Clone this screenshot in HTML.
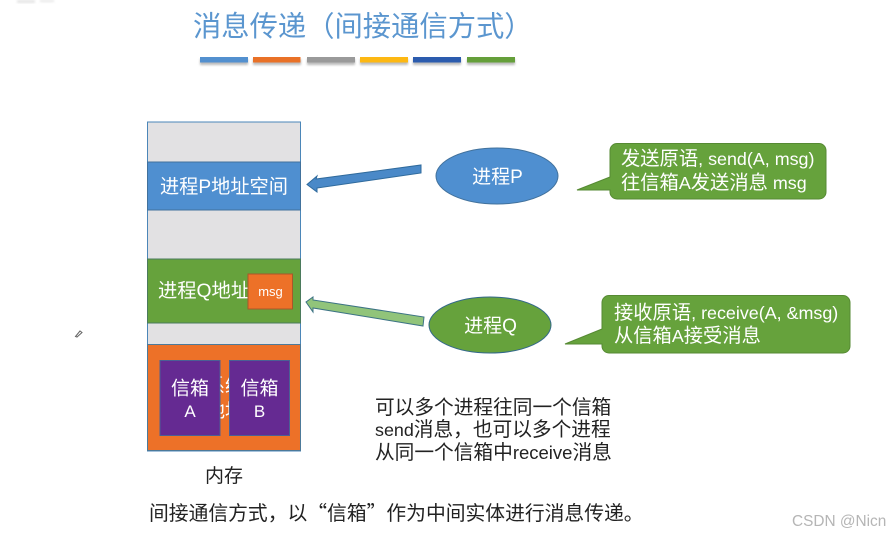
<!DOCTYPE html>
<html><head><meta charset="utf-8"><style>
html,body{margin:0;padding:0;background:#fff}
svg{display:block}
text{font-family:"Liberation Sans","Noto Sans CJK SC",sans-serif;text-spacing-trim:space-all}
.q{font-family:"Noto Sans CJK SC",sans-serif}
.l{font-size:17.9px}
</style></head><body>
<svg width="890" height="535" viewBox="0 0 890 535" xmlns="http://www.w3.org/2000/svg">
<defs><filter id="b" x="-10%" y="-10%" width="120%" height="140%"><feGaussianBlur stdDeviation="1"/></filter></defs>
<g filter="url(#b)" fill="#e6e6e6"><rect x="17" y="0" width="18" height="3"/><rect x="40" y="0" width="14" height="2"/></g>
<text y="36" font-size="28.300" fill="#5b96cf" class="q"><tspan x="193">消</tspan><tspan x="221.300">息</tspan><tspan x="249.600">传</tspan><tspan x="277.900">递</tspan><tspan x="306.200">（</tspan><tspan x="334.500">间</tspan><tspan x="362.800">接</tspan><tspan x="391.100">通</tspan><tspan x="419.400">信</tspan><tspan x="447.700">方</tspan><tspan x="476">式</tspan><tspan x="504.300">）</tspan></text>
<g filter="url(#b)" fill="#bbb"><rect x="200" y="59" width="48" height="6"/><rect x="253" y="59" width="48" height="6"/><rect x="307" y="59" width="48" height="6"/><rect x="360" y="59" width="48" height="6"/><rect x="413" y="59" width="48" height="6"/><rect x="467" y="59" width="48" height="6"/></g>
<rect x="200" y="57" width="48" height="5.500" fill="#5390cf"/>
<rect x="253" y="57" width="47.500" height="5.500" fill="#e97127"/>
<rect x="307" y="57" width="48" height="5.500" fill="#9a9a9a"/>
<rect x="360" y="57" width="48" height="5.500" fill="#fdb813"/>
<rect x="413" y="57" width="48" height="5.500" fill="#2c5cae"/>
<rect x="467" y="57" width="48" height="5.500" fill="#659f3a"/>

<rect x="147.500" y="122" width="153" height="329" fill="#e2e1e3" stroke="#4b86b8" stroke-width="1"/>
<rect x="147.500" y="162" width="153" height="48" fill="#4f8fd0" stroke="#41719c" stroke-width="1"/>
<text x="160" y="193" font-size="19.200" fill="#fff">进程P地址空间</text>
<rect x="147.500" y="259" width="153" height="64" fill="#66a23c" stroke="#4b7a5c" stroke-width="1"/>
<text x="158" y="297" font-size="19.300" fill="#fff">进程Q地址</text>
<rect x="248" y="274" width="44.500" height="35" fill="#ed7128" stroke="#a9562a" stroke-width="1"/>
<text x="270.500" y="296" font-size="13" fill="#fff" text-anchor="middle">msg</text>
<rect x="147.500" y="344.500" width="153" height="106" fill="#ed7128" stroke="#4d7a9a" stroke-width="1"/>
<text x="225" y="392" font-size="19" fill="#fff" text-anchor="middle">系统</text>
<text x="225" y="417" font-size="19" fill="#fff" text-anchor="middle">地址</text>
<rect x="160" y="360.500" width="60" height="75" fill="#652a92" stroke="#4a5f95" stroke-width="1"/>
<rect x="229.500" y="360.500" width="60" height="75" fill="#652a92" stroke="#4a5f95" stroke-width="1"/>
<text x="190" y="394.500" font-size="19" fill="#fff" text-anchor="middle">信箱</text>
<text x="190" y="417" font-size="17" fill="#fff" text-anchor="middle">A</text>
<text x="259.500" y="394.500" font-size="19" fill="#fff" text-anchor="middle">信箱</text>
<text x="259.500" y="417" font-size="17" fill="#fff" text-anchor="middle">B</text>
<text x="224" y="482" font-size="19" fill="#222" text-anchor="middle">内存</text>

<polygon points="421,165 421,173 317,188 317,192 307,184.500 317,176 316,179" fill="#4a89c8" stroke="#2f6a9c" stroke-width="1"/>
<polygon points="424,317 423,326 313,308 313,312 306,302 313,297 313,300" fill="#91c47a" stroke="#3c7384" stroke-width="1"/>

<ellipse cx="497" cy="176" rx="61" ry="28" fill="#4f8fd0" stroke="#41719c" stroke-width="1"/>
<text x="497.500" y="183" font-size="19" fill="#fff" text-anchor="middle">进程P</text>
<ellipse cx="490" cy="325" rx="61" ry="28" fill="#66a23c" stroke="#33688a" stroke-width="1"/>
<text x="490.500" y="332" font-size="19" fill="#fff" text-anchor="middle">进程Q</text>

<path d="M617,143.500H819a7,7 0 0 1 7,7V192a7,7 0 0 1 -7,7H617a7,7 0 0 1 -7,-7V190L577,190L610,177V150.500a7,7 0 0 1 7,-7Z" fill="#66a23c" stroke="#568a33" stroke-width="1"/>
<text x="621" y="165" font-size="19.300" fill="#fff">发送原语<tspan class="l">, send(A, msg)</tspan></text>
<text x="621" y="189" font-size="19.300" fill="#fff">往信箱<tspan class="l">A</tspan>发送消息<tspan class="l"> msg</tspan></text>
<path d="M609,295.500H843a7,7 0 0 1 7,7V346a7,7 0 0 1 -7,7H609a7,7 0 0 1 -7,-7V344L565,344L602,329V302.500a7,7 0 0 1 7,-7Z" fill="#66a23c" stroke="#568a33" stroke-width="1"/>
<text x="614" y="319" font-size="19.300" fill="#fff">接收原语<tspan class="l">, receive(A, &amp;msg)</tspan></text>
<text x="614" y="342" font-size="19.300" fill="#fff">从信箱<tspan class="l">A</tspan>接受消息</text>

<text x="375" y="414" font-size="19.700" fill="#222">可以多个进程往同一个信箱</text>
<text x="375" y="436" font-size="19.700" fill="#222"><tspan class="l">send</tspan>消息，也可以多个进程</text>
<text x="375" y="459" font-size="19.700" fill="#222">从同一个信箱中<tspan style="font-size:18.500px">receive</tspan>消息</text>
<text x="149" y="520" font-size="19.800" fill="#222" class="q">间接通信方式，以“信箱”作为中间实体进行消息传递。</text>
<text x="792" y="526" font-size="15.400" fill="#b5b5b5">CSDN @Nicn</text>

<path d="M75.500,336.500L80,331L82,332.500L77,337Z" fill="#fff" stroke="#666" stroke-width="1"/>
</svg>
</body></html>
